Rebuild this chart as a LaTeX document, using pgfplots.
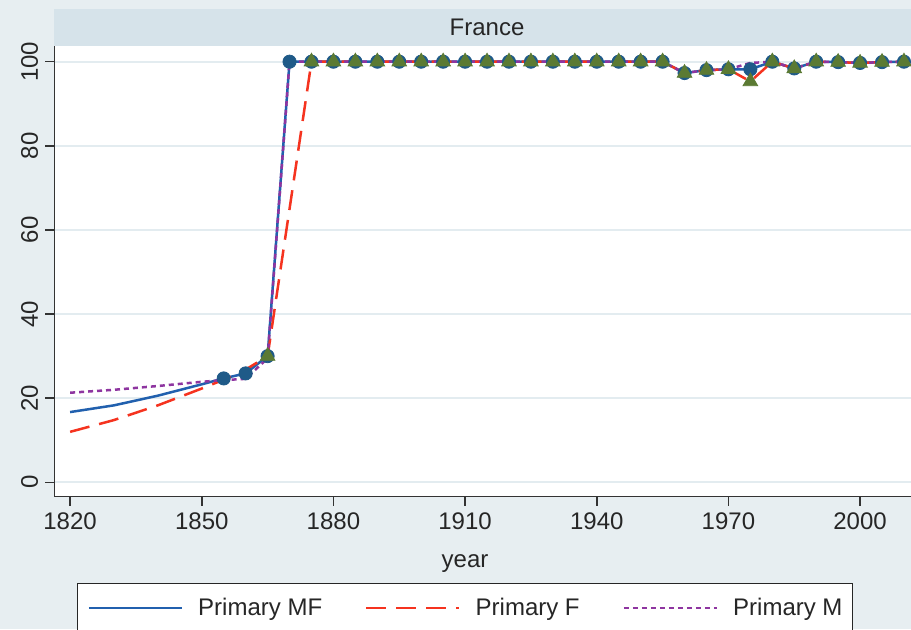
\documentclass[border=0pt]{standalone}
\usepackage{pgfplots}
\pgfplotsset{compat=1.18}
\usepackage{pgfplotstable}
\usepackage{fontspec}
\setmainfont{Liberation Sans}
\definecolor{bg}{HTML}{E7EEF1}
\definecolor{strip}{HTML}{D6E3EA}
\definecolor{gridc}{HTML}{E3ECF0}
\definecolor{mfline}{HTML}{2160AE}
\definecolor{fline}{HTML}{F5331F}
\definecolor{mline}{HTML}{8E35A0}
\definecolor{mfmark}{HTML}{1F5A88}
\definecolor{fmark}{HTML}{5B7A33}
\definecolor{axc}{HTML}{333333}

\pgfplotstableread{
year v
1820 16.7
1830 18.3
1840 20.6
1850 23.3
1855 24.7
1860 25.9
1865 30.0
1870 100
1875 100
1880 100
1885 100
1890 100
1895 100
1900 100
1905 100
1910 100
1915 100
1920 100
1925 100
1930 100
1935 100
1940 100
1945 100
1950 100
1955 100
1960 97.3
1965 98.0
1970 98.2
1975 98.2
1980 100
1985 98.4
1990 100
1995 99.9
2000 99.7
2005 99.9
2010 100
}\mfdata

\pgfplotstableread{
year v
1820 12.0
1830 14.8
1840 18.3
1850 22.3
1855 24.4
1860 26.8
1865 30.0
1875 100
1880 100
1885 100
1890 100
1895 100
1900 100
1905 100
1910 100
1915 100
1920 100
1925 100
1930 100
1935 100
1940 100
1945 100
1950 100
1955 100
1960 97.3
1965 98.0
1970 98.2
1975 95.3
1980 100
1985 98.4
1990 100
1995 99.9
2000 99.7
2005 99.9
2010 100
}\fdata

\pgfplotstableread{
year v
1820 21.3
1830 22.0
1840 22.9
1850 23.9
1855 24.3
1860 24.6
1865 29.5
1870 100
1875 100
1880 100
1885 100
1890 100
1895 100
1900 100
1905 100
1910 100
1915 100
1920 100
1925 100
1930 100
1935 100
1940 100
1945 100
1950 100
1955 100
1960 97.3
1965 98.0
1970 98.2
1975 99.7
1980 100
1985 98.4
1990 100
1995 99.9
2000 99.7
2005 99.9
2010 100
}\mdata

\begin{document}
\begin{tikzpicture}
\fill[bg] (-27.15pt,-66.15pt) rectangle (428.35pt,248.35pt);
\fill[strip] (0pt,225.35pt) rectangle (428.35pt,243.85pt);
\node[font=\fontsize{12}{14}\selectfont, text=black!85] at (216.35pt,234.6pt) {France};
\begin{axis}[
  scale only axis, width=428.35pt, height=225.35pt,
  xmin=1816.4, xmax=2011.6, ymin=-3.42, ymax=103.73,
  axis x line*=bottom, axis y line*=left,
  axis line style={-, axc, line width=0.75pt},
  xtick={1820,1850,...,2000}, ytick={0,20,...,100},
  tick align=outside, major tick length=4.5pt,
  tick style={axc, line width=0.75pt},
  ymajorgrids, grid style={gridc, line width=0.9pt},
  axis background/.style={fill=white},
  /pgf/number format/assume math mode=true,
  /pgf/number format/1000 sep={},
  ticklabel style={font=\fontsize{12}{14}\selectfont, text=black!85},
  yticklabel style={rotate=90, anchor=south},
  xlabel={year},
  xlabel style={at={(axis description cs:0.4794,-0.156)}, anchor=base, font=\fontsize{12}{14}\selectfont, text=black!85},
  legend image code/.code={\draw[#1] (0pt,0pt) -- (46.5pt,0pt);},
  legend style={at={(axis description cs:0.0265,-0.1915)}, anchor=north west,
    draw=black!85, line width=0.7pt, fill=white,
    font=\fontsize{12}{14}\selectfont, text=black!85,
    legend columns=3, inner xsep=5pt, inner ysep=7pt,
    nodes={inner xsep=0pt, inner ysep=0pt},
    /tikz/every odd column/.append style={column sep=7.5pt},
    /tikz/every even column/.append style={column sep=21.5pt}},
  legend cell align=left,
]
\addplot[only marks, mark=*, mark size=3.3pt, mfmark, restrict x to domain=1853:2015, forget plot] table[x=year,y=v] {\mfdata};
\addplot[only marks, mark=triangle*, mark size=4.2pt, fmark, restrict x to domain=1862:2015, forget plot] table[x=year,y=v] {\fdata};
\addplot[mfline, line width=1.25pt, no marks] table[x=year,y=v] {\mfdata};
\addplot[fline, line width=1.25pt, dash pattern=on 10pt off 5pt, no marks] table[x=year,y=v] {\fdata};
\addplot[mline, line width=1.25pt, dash pattern=on 2.5pt off 2pt, no marks] table[x=year,y=v] {\mdata};
\legend{Primary MF, Primary F, Primary M}
\end{axis}
\pgfresetboundingbox
\useasboundingbox (-27.15pt,-66.15pt) rectangle (428.35pt,248.35pt);
\end{tikzpicture}
\end{document}
